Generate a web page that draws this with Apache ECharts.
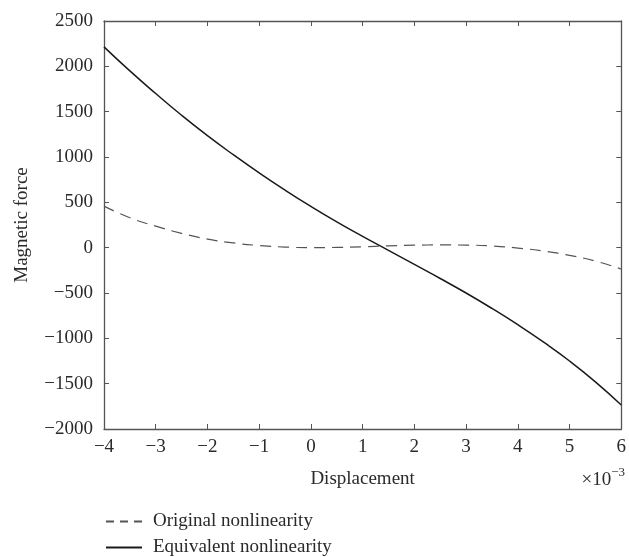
<!DOCTYPE html>
<html>
<head>
<meta charset="utf-8">
<script src="https://cdn.jsdelivr.net/npm/echarts@6/dist/echarts.min.js"></script>
<style>
html,body{margin:0;padding:0;background:#fff;}
#chart{width:629px;height:557px;}
</style>
</head>
<body>
<div id="chart"></div>
<script>
// Displacement (×10^-3)
var displacement = [-4,-3.5,-3,-2.5,-2,-1.5,-1,-0.5,0,0.5,1,1.5,2,2.5,3,3.5,4,4.5,5,5.5,6];
var originalForce = [458,330,237,158,95,52,24,7,0,3,10,20,27,30,28,19,-4,-38,-85,-148,-235];
var equivalentForce = [2215,1950,1700,1460,1235,1025,825,635,455,285,125,-30,-185,-340,-500,-670,-850,-1043,-1250,-1480,-1735];
var seriesNames = ['Original nonlinearity','Equivalent nonlinearity'];

function pairs(ys){ return displacement.map(function(x,i){ return [x, ys[i]]; }); }

var FONT = '"Liberation Serif", "Times New Roman", serif';
var axisColor = '#555';
var txt = '#2a2a2a';

function legendAt(name, top, dash){
  return {
    orient:'horizontal', left:100, top:top, itemWidth:36, itemHeight:12,
    selectedMode:false,
    itemStyle:{opacity:0},
    lineStyle: dash ? {type:dash} : {},
    textStyle:{fontFamily:FONT, fontSize:19, color:txt, padding:[0,0,0,6]},
    data:[name]
  };
}

var chart = echarts.init(document.getElementById('chart'), null, {renderer:'canvas'});
chart.setOption({
  animation:false,
  backgroundColor:'#fff',
  textStyle:{fontFamily:FONT},
  grid:{left:104, right:7, top:21, bottom:128, containLabel:false},
  legend:[legendAt(seriesNames[0], 507, [8,6]), legendAt(seriesNames[1], 533, null)],
  xAxis:[{
    type:'value', min:-4, max:6, interval:1, position:'bottom',
    name:'Displacement', nameLocation:'middle', nameGap:41,
    nameTextStyle:{fontFamily:FONT, fontSize:19, color:txt},
    axisLine:{show:true, onZero:false, lineStyle:{color:axisColor, width:1.3}},
    axisTick:{show:true, inside:true, length:5, lineStyle:{color:axisColor}},
    axisLabel:{fontFamily:FONT, fontSize:19, color:txt, margin:9,
      formatter:function(v){ return v<0 ? '\u2212'+Math.abs(v) : String(v); }},
    splitLine:{show:false}
  },{
    type:'value', min:-4, max:6, interval:1, position:'top',
    axisLine:{show:true, onZero:false, lineStyle:{color:axisColor, width:1.3}},
    axisTick:{show:true, inside:true, length:5, lineStyle:{color:axisColor}},
    axisLabel:{show:false}, splitLine:{show:false}
  }],
  yAxis:[{
    type:'value', min:-2000, max:2500, interval:500, position:'left',
    name:'Magnetic force', nameLocation:'middle', nameGap:72,
    nameTextStyle:{fontFamily:FONT, fontSize:19, color:txt},
    axisLine:{show:true, onZero:false, lineStyle:{color:axisColor, width:1.3}},
    axisTick:{show:true, inside:true, length:5, lineStyle:{color:axisColor}},
    axisLabel:{fontFamily:FONT, fontSize:19, color:txt, margin:11,
      formatter:function(v){ return v<0 ? '\u2212'+Math.abs(v) : String(v); }},
    splitLine:{show:false}
  },{
    type:'value', min:-2000, max:2500, interval:500, position:'right',
    axisLine:{show:true, onZero:false, lineStyle:{color:axisColor, width:1.3}},
    axisTick:{show:true, inside:true, length:5, lineStyle:{color:axisColor}},
    axisLabel:{show:false}, splitLine:{show:false}
  }],
  graphic:[{
    type:'text', right:4, top:466,
    style:{
      text:'{a|\u00d710}{b|\u22123}',
      rich:{
        a:{fontFamily:FONT, fontSize:19, fill:txt, verticalAlign:'bottom', lineHeight:24},
        b:{fontFamily:FONT, fontSize:13, fill:txt, verticalAlign:'top', lineHeight:24, padding:[0,0,10,0]}
      }
    }
  }],
  series:[{
    name:seriesNames[0], type:'line', smooth:true, symbol:'none', xAxisIndex:0, yAxisIndex:0,
    data:pairs(originalForce),
    lineStyle:{color:'#555', width:1.2, type:[11,7]},
    itemStyle:{color:'#555'}
  },{
    name:seriesNames[1], type:'line', smooth:true, symbol:'none', xAxisIndex:0, yAxisIndex:0,
    data:pairs(equivalentForce),
    lineStyle:{color:'#1a1a1a', width:1.5, type:'solid'},
    itemStyle:{color:'#1a1a1a'}
  }]
});
</script>
</body>
</html>
